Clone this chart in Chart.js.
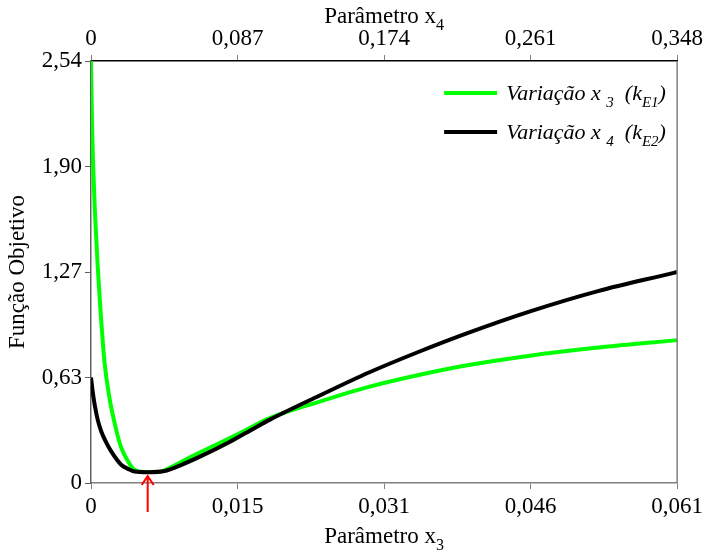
<!DOCTYPE html>
<html>
<head>
<meta charset="utf-8">
<script src="https://cdn.jsdelivr.net/npm/chart.js@4.4.1/dist/chart.umd.min.js"></script>
<style>
  html, body { margin: 0; padding: 0; background: #fff; }
</style>
</head>
<body>
<canvas id="chart" width="707" height="557"></canvas>
<script>
// Variação x3 (kE1) - bottom axis
const x3Values    = [0, 0.0001, 0.0002, 0.0004, 0.0007, 0.0010, 0.0014, 0.0019, 0.0025, 0.0031, 0.0038, 0.0045, 0.0055, 0.0065, 0.0072, 0.0085, 0.0103, 0.0130, 0.0155, 0.0186, 0.0238, 0.0290, 0.0341, 0.0393, 0.0455, 0.0528, 0.0610];
const x3Objective = [2.54, 2.18, 1.95, 1.64, 1.30, 1.03, 0.73, 0.52, 0.35, 0.22, 0.135, 0.08, 0.066, 0.066, 0.068, 0.10, 0.155, 0.23, 0.30, 0.39, 0.49, 0.58, 0.65, 0.71, 0.765, 0.815, 0.86];

// Variação x4 (kE2) - top axis
const x4Values    = [0, 0.0010, 0.0022, 0.0040, 0.0061, 0.009, 0.012, 0.0179, 0.022, 0.0259, 0.0337, 0.0436, 0.0527, 0.065, 0.082, 0.097, 0.106, 0.1355, 0.165, 0.1947, 0.2243, 0.2598, 0.301, 0.346, 0.348];
const x4Objective = [0.635, 0.55, 0.47, 0.38, 0.31, 0.245, 0.19, 0.11, 0.085, 0.069, 0.065, 0.072, 0.105, 0.16, 0.245, 0.33, 0.38, 0.525, 0.665, 0.79, 0.905, 1.03, 1.155, 1.265, 1.27];

const x3Ticks = [0, 0.01525, 0.0305, 0.04575, 0.061];
const x3TickLabels = ['0', '0,015', '0,031', '0,046', '0,061'];
const x4Ticks = [0, 0.087, 0.174, 0.261, 0.348];
const x4TickLabels = ['0', '0,087', '0,174', '0,261', '0,348'];
const yTicks = [0, 0.635, 1.27, 1.905, 2.54];
const yTickLabels = ['0', '0,63', '1,27', '1,90', '2,54'];

const optimumX3 = 0.0059;   // red arrow

const FONT = "'Liberation Serif', 'Times New Roman', serif";
const tickFont = { family: FONT, size: 23 };

// draws text pieces, some of them as subscripts
function drawParts(ctx, parts, x, y, size, italic, align) {
  const style = italic ? 'italic ' : '';
  const subSize = Math.round(size * 0.68);
  let total = 0;
  parts.forEach(p => {
    ctx.font = style + (p[1] ? subSize : size) + 'px ' + FONT;
    total += ctx.measureText(p[0]).width;
  });
  let cx = align === 'center' ? x - total / 2 : x;
  ctx.textAlign = 'left';
  ctx.textBaseline = 'alphabetic';
  ctx.fillStyle = '#000';
  parts.forEach(p => {
    ctx.font = style + (p[1] ? subSize : size) + 'px ' + FONT;
    ctx.fillText(p[0], cx, y + (p[1] ? 7 : 0));
    cx += ctx.measureText(p[0]).width;
  });
}

const extras = {
  id: 'extras',
  afterDraw(chart) {
    const ctx = chart.ctx;
    const a = chart.chartArea;
    ctx.save();

    // right frame line
    ctx.strokeStyle = '#808080';
    ctx.lineWidth = 1.5;
    ctx.beginPath();
    ctx.moveTo(a.right, a.top);
    ctx.lineTo(a.right, a.bottom);
    ctx.stroke();

    // axis titles
    const mid = (a.left + a.right) / 2;
    drawParts(ctx, [['Parâmetro x', false], ['4', true]], mid, 23, 23, false, 'center');
    drawParts(ctx, [['Parâmetro x', false], ['3', true]], mid, 543, 23, false, 'center');
    ctx.save();
    ctx.translate(24, (a.top + a.bottom) / 2);
    ctx.rotate(-Math.PI / 2);
    drawParts(ctx, [['Função Objetivo', false]], 0, 0, 23, false, 'center');
    ctx.restore();

    // legend
    const rows = [
      { color: '#00ff00', sub: '3', k: 'E1', y: a.top + 32 },
      { color: '#000000', sub: '4', k: 'E2', y: a.top + 71 }
    ];
    rows.forEach(r => {
      ctx.strokeStyle = r.color;
      ctx.lineWidth = 4;
      ctx.beginPath();
      ctx.moveTo(a.right - 233, r.y);
      ctx.lineTo(a.right - 180, r.y);
      ctx.stroke();
      drawParts(ctx, [['Variação x ', false], [r.sub, true], ['  (k', false], [r.k, true], [')', false]],
        a.right - 171, r.y + 7, 22, true, 'left');
    });

    // red arrow at the optimum
    const ax = chart.scales.x.getPixelForValue(optimumX3);
    const tip = a.bottom - 7;
    ctx.strokeStyle = '#ff0000';
    ctx.lineWidth = 2;
    ctx.beginPath();
    ctx.moveTo(ax, a.bottom + 29);
    ctx.lineTo(ax, tip);
    ctx.moveTo(ax - 6, tip + 9);
    ctx.lineTo(ax, tip);
    ctx.lineTo(ax + 6, tip + 9);
    ctx.stroke();

    ctx.restore();
  }
};

new Chart(document.getElementById('chart'), {
  type: 'scatter',
  data: {
    datasets: [
      {
        label: 'Variação x4 (kE2)',
        data: x4Values.map((v, i) => ({ x: v, y: x4Objective[i] })),
        xAxisID: 'x2',
        borderColor: '#000000',
        order: 0
      },
      {
        label: 'Variação x3 (kE1)',
        data: x3Values.map((v, i) => ({ x: v, y: x3Objective[i] })),
        xAxisID: 'x',
        borderColor: '#00ff00',
        order: 1
      }
    ]
  },
  options: {
    responsive: false,
    animation: false,
    layout: { padding: { right: 29, left: 0, top: 0, bottom: 0 } },
    elements: {
      point: { radius: 0 },
      line: { borderWidth: 4, tension: 0.4, cubicInterpolationMode: 'monotone', fill: false }
    },
    showLine: true,
    plugins: {
      legend: { display: false },
      tooltip: { enabled: false }
    },
    scales: {
      x: {
        type: 'linear',
        position: 'bottom',
        min: 0, max: 0.061,
        afterBuildTicks: s => { s.ticks = x3Ticks.map(v => ({ value: v })); },
        afterFit: s => { s.height = 74; },
        ticks: { autoSkip: false, maxRotation: 0, font: tickFont, color: '#000', padding: 4,
                 callback: (v, i) => x3TickLabels[i] },
        grid: { drawOnChartArea: false, tickLength: 6, color: '#808080' },
        border: { color: '#808080', width: 1.5 }
      },
      x2: {
        type: 'linear',
        position: 'top',
        min: 0, max: 0.348,
        afterBuildTicks: s => { s.ticks = x4Ticks.map(v => ({ value: v })); },
        afterFit: s => { s.height = 61; },
        ticks: { autoSkip: false, maxRotation: 0, font: tickFont, color: '#000', padding: 2,
                 callback: (v, i) => x4TickLabels[i] },
        grid: { drawOnChartArea: false, tickLength: 6, color: '#808080' },
        border: { color: '#000', width: 1.5 }
      },
      y: {
        type: 'linear',
        position: 'left',
        min: 0, max: 2.54,
        afterBuildTicks: s => { s.ticks = yTicks.map(v => ({ value: v })); },
        afterFit: s => { s.width = 91; },
        ticks: { autoSkip: false, font: tickFont, color: '#000', padding: 3,
                 callback: (v, i) => yTickLabels[i] },
        grid: { drawOnChartArea: false, tickLength: 6, color: '#606060' },
        border: { color: '#606060', width: 1.5 }
      }
    }
  },
  plugins: [extras]
});
</script>
</body>
</html>
